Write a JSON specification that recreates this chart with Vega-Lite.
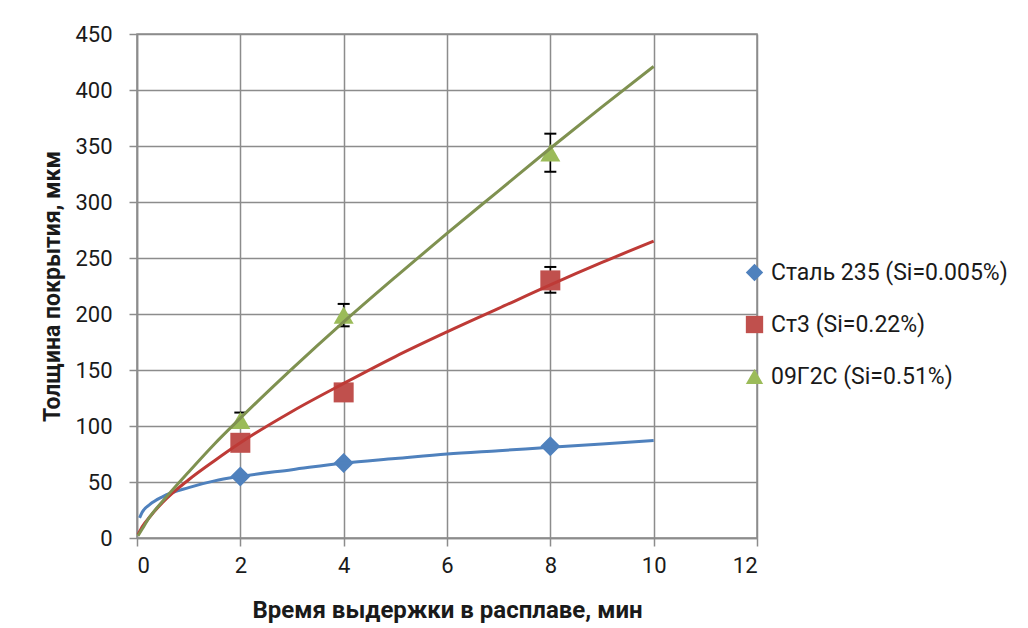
{
  "$schema": "https://vega.github.io/schema/vega-lite/v6.json",
  "width": 620,
  "height": 504,
  "autosize": "none",
  "padding": {"left": 137, "top": 34, "right": 271, "bottom": 90},
  "background": "white",
  "config": {
    "font": "Roboto",
    "view": {"stroke": "#8c8c8c", "strokeWidth": 1.5},
    "axis": {
      "gridColor": "#8c8c8c", "gridWidth": 1.5, "gridOpacity": 1,
      "domainColor": "#8c8c8c", "domainWidth": 1.5,
      "tickColor": "#8c8c8c", "tickWidth": 1.5, "tickSize": 8,
      "labelFont": "Roboto", "labelFontSize": 22, "labelColor": "#1a1a1a",
      "titleFont": "Roboto", "titleFontWeight": "bold", "titleColor": "#1a1a1a"
    },
    "legend": {
      "title": null, "orient": "none", "legendX": 606, "legendY": 227, "padding": 0,
      "labelFont": "Roboto", "labelFontSize": 23, "labelColor": "#1a1a1a", "labelLimit": 400,
      "symbolSize": 300, "symbolStrokeWidth": 0, "labelOffset": 5, "rowPadding": 28
    }
  },
  "datasets": {
    "pts": [
      {"series": "Сталь 235 (Si=0.005%)", "t": 2, "h": 55, "lo": 53, "hi": 57},
      {"series": "Сталь 235 (Si=0.005%)", "t": 4, "h": 67, "lo": 65, "hi": 69},
      {"series": "Сталь 235 (Si=0.005%)", "t": 8, "h": 82, "lo": 80, "hi": 84},
      {"series": "Ст3 (Si=0.22%)", "t": 2, "h": 85, "lo": 80, "hi": 90},
      {"series": "Ст3 (Si=0.22%)", "t": 4, "h": 130, "lo": 125, "hi": 135},
      {"series": "Ст3 (Si=0.22%)", "t": 8, "h": 230, "lo": 219, "hi": 242},
      {"series": "09Г2С (Si=0.51%)", "t": 2, "h": 105, "lo": 99, "hi": 112},
      {"series": "09Г2С (Si=0.51%)", "t": 4, "h": 199, "lo": 189, "hi": 209},
      {"series": "09Г2С (Si=0.51%)", "t": 8, "h": 344, "lo": 327, "hi": 361}
    ],
    "trend": [
      {"series": "Сталь 235 (Si=0.005%)", "t": 0.05, "h": 18},
      {"series": "Сталь 235 (Si=0.005%)", "t": 0.1, "h": 23},
      {"series": "Сталь 235 (Si=0.005%)", "t": 0.25, "h": 30},
      {"series": "Сталь 235 (Si=0.005%)", "t": 0.5, "h": 37},
      {"series": "Сталь 235 (Si=0.005%)", "t": 1, "h": 45},
      {"series": "Сталь 235 (Si=0.005%)", "t": 1.5, "h": 51},
      {"series": "Сталь 235 (Si=0.005%)", "t": 2, "h": 55},
      {"series": "Сталь 235 (Si=0.005%)", "t": 3, "h": 61},
      {"series": "Сталь 235 (Si=0.005%)", "t": 4, "h": 67},
      {"series": "Сталь 235 (Si=0.005%)", "t": 5, "h": 71},
      {"series": "Сталь 235 (Si=0.005%)", "t": 6, "h": 75},
      {"series": "Сталь 235 (Si=0.005%)", "t": 7, "h": 78},
      {"series": "Сталь 235 (Si=0.005%)", "t": 8, "h": 81},
      {"series": "Сталь 235 (Si=0.005%)", "t": 9, "h": 84},
      {"series": "Сталь 235 (Si=0.005%)", "t": 10, "h": 87},
      {"series": "Ст3 (Si=0.22%)", "t": 0.02, "h": 3},
      {"series": "Ст3 (Si=0.22%)", "t": 0.1, "h": 10},
      {"series": "Ст3 (Si=0.22%)", "t": 0.25, "h": 19},
      {"series": "Ст3 (Si=0.22%)", "t": 0.5, "h": 32},
      {"series": "Ст3 (Si=0.22%)", "t": 1, "h": 52},
      {"series": "Ст3 (Si=0.22%)", "t": 1.5, "h": 69},
      {"series": "Ст3 (Si=0.22%)", "t": 2, "h": 85},
      {"series": "Ст3 (Si=0.22%)", "t": 3, "h": 113},
      {"series": "Ст3 (Si=0.22%)", "t": 4, "h": 138},
      {"series": "Ст3 (Si=0.22%)", "t": 5, "h": 162},
      {"series": "Ст3 (Si=0.22%)", "t": 6, "h": 184},
      {"series": "Ст3 (Si=0.22%)", "t": 7, "h": 205},
      {"series": "Ст3 (Si=0.22%)", "t": 8, "h": 226},
      {"series": "Ст3 (Si=0.22%)", "t": 9, "h": 246},
      {"series": "Ст3 (Si=0.22%)", "t": 10, "h": 265},
      {"series": "09Г2С (Si=0.51%)", "t": 0.02, "h": 2},
      {"series": "09Г2С (Si=0.51%)", "t": 0.1, "h": 8},
      {"series": "09Г2С (Si=0.51%)", "t": 0.25, "h": 19},
      {"series": "09Г2С (Si=0.51%)", "t": 0.5, "h": 33},
      {"series": "09Г2С (Si=0.51%)", "t": 1, "h": 59},
      {"series": "09Г2С (Si=0.51%)", "t": 1.5, "h": 84},
      {"series": "09Г2С (Si=0.51%)", "t": 2, "h": 107},
      {"series": "09Г2С (Si=0.51%)", "t": 3, "h": 151},
      {"series": "09Г2С (Si=0.51%)", "t": 4, "h": 193},
      {"series": "09Г2С (Si=0.51%)", "t": 5, "h": 233},
      {"series": "09Г2С (Si=0.51%)", "t": 6, "h": 272},
      {"series": "09Г2С (Si=0.51%)", "t": 7, "h": 310},
      {"series": "09Г2С (Si=0.51%)", "t": 8, "h": 348},
      {"series": "09Г2С (Si=0.51%)", "t": 9, "h": 385},
      {"series": "09Г2С (Si=0.51%)", "t": 10, "h": 421}
    ]
  },
  "encoding": {
    "x": {
      "field": "t", "type": "quantitative",
      "scale": {"domain": [0, 12], "nice": false, "zero": false},
      "axis": {"values": [0, 2, 4, 6, 8, 10, 12], "title": "Время выдержки в расплаве, мин", "titleFontSize": 24, "labelPadding": 9, "titlePadding": 22}
    }
  },
  "layer": [
    {
      "data": {"name": "pts"},
      "mark": {"type": "rule", "color": "#000000", "strokeWidth": 1.5},
      "encoding": {
        "y": {"field": "lo", "type": "quantitative", "scale": {"domain": [0, 450], "nice": false},
          "axis": {"values": [0, 50, 100, 150, 200, 250, 300, 350, 400, 450], "title": "Толщина покрытия, мкм", "titleFontSize": 23, "labelPadding": 17, "titlePadding": 10}},
        "y2": {"field": "hi"}
      }
    },
    {
      "data": {"name": "pts"},
      "mark": {"type": "tick", "orient": "horizontal", "color": "#000000", "size": 12, "thickness": 2, "opacity": 1},
      "encoding": {"y": {"field": "lo", "type": "quantitative"}}
    },
    {
      "data": {"name": "pts"},
      "mark": {"type": "tick", "orient": "horizontal", "color": "#000000", "size": 12, "thickness": 2, "opacity": 1},
      "encoding": {"y": {"field": "hi", "type": "quantitative"}}
    },
    {
      "data": {"name": "pts"},
      "mark": {"type": "point", "filled": true, "opacity": 1, "size": 400},
      "encoding": {
        "y": {"field": "h", "type": "quantitative"},
        "color": {"field": "series", "type": "nominal",
          "scale": {"domain": ["Сталь 235 (Si=0.005%)", "Ст3 (Si=0.22%)", "09Г2С (Si=0.51%)"], "range": ["#4f81bd", "#c0504d", "#9bbb59"]},
          "legend": {"title": null}},
        "shape": {"field": "series", "type": "nominal",
          "scale": {"domain": ["Сталь 235 (Si=0.005%)", "Ст3 (Si=0.22%)", "09Г2С (Si=0.51%)"], "range": ["diamond", "square", "triangle-up"]},
          "legend": {"title": null}}
      }
    },
    {
      "data": {"name": "trend"},
      "mark": {"type": "line", "strokeWidth": 3, "interpolate": "monotone"},
      "encoding": {
        "y": {"field": "h", "type": "quantitative"},
        "stroke": {"field": "series", "type": "nominal", "legend": null,
          "scale": {"domain": ["Сталь 235 (Si=0.005%)", "Ст3 (Si=0.22%)", "09Г2С (Si=0.51%)"], "range": ["#4f81bd", "#be3a36", "#7f9150"]}}
      }
    }
  ]
}
